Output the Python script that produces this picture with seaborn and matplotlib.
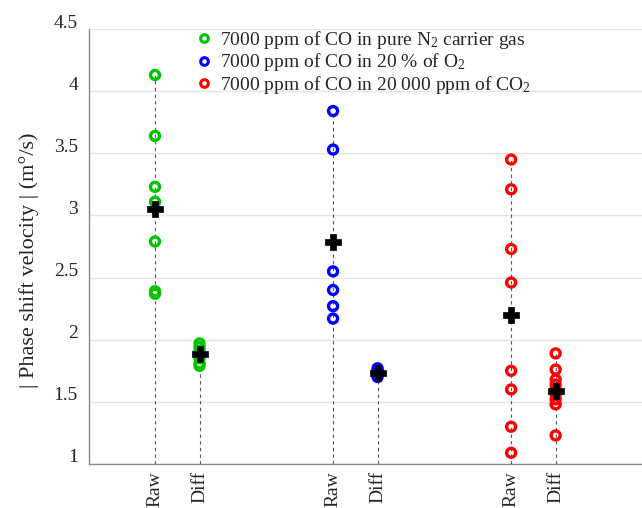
import numpy as np
import pandas as pd
import matplotlib
matplotlib.use("Agg")
import matplotlib.pyplot as plt
import matplotlib.transforms as mtransforms
from matplotlib.lines import Line2D
import seaborn as sns

# Measured |phase shift velocity| (m°/s) per gas mixture, raw and differential
green_raw = [4.13, 3.64, 3.23, 3.11, 2.79, 2.39, 2.37]
green_diff = [1.97, 1.94, 1.91, 1.88, 1.85, 1.81, 1.79]
blue_raw = [3.84, 3.53, 2.55, 2.40, 2.27, 2.17]
blue_diff = [1.77, 1.75, 1.74, 1.72, 1.70]
red_raw = [3.45, 3.21, 2.73, 2.46, 1.75, 1.60, 1.30, 1.09]
red_diff = [1.89, 1.76, 1.68, 1.64, 1.60, 1.56, 1.52, 1.48, 1.23]

# Central values (black crosses), order: raw, diff for each mixture
green_center = [3.05, 1.887]
blue_center = [2.79, 1.736]
red_center = [2.20, 1.59]

labels = [
    "7000 ppm of CO in pure N$_2$ carrier gas",
    "7000 ppm of CO in 20 % of O$_2$",
    "7000 ppm of CO in 20 000 ppm of CO$_2$",
]
stage_labels = ["Raw", "Diff"]
positions = [(1, 2), (5, 6), (9, 10)]
colors = ["#00c400", "#0000ff", "#ff0000"]

series = [
    (green_raw, green_diff, green_center),
    (blue_raw, blue_diff, blue_center),
    (red_raw, red_diff, red_center),
]

rows = []
centers = []
for lab, (raw, diff, cen), (p_raw, p_diff) in zip(labels, series, positions):
    for v in raw:
        rows.append({"gas": lab, "stage": "Raw", "pos": p_raw, "value": v})
    for v in diff:
        rows.append({"gas": lab, "stage": "Diff", "pos": p_diff, "value": v})
    centers.append({"pos": p_raw, "value": cen[0]})
    centers.append({"pos": p_diff, "value": cen[1]})
df = pd.DataFrame(rows)
cdf = pd.DataFrame(centers)

sns.set_style("white")
plt.rcParams["font.family"] = ["Liberation Serif", "DejaVu Serif"]
plt.rcParams["mathtext.fontset"] = "custom"
plt.rcParams["mathtext.rm"] = "Liberation Serif"
plt.rcParams["mathtext.it"] = "Liberation Serif:italic"

FS = 14

W, H = 642, 508
fig = plt.figure(figsize=(W / 100, H / 100), dpi=100)
left, right, top, bottom = 89, 642, 29, 464
ax = fig.add_axes([left / W, 1 - bottom / H, (right - left) / W, (bottom - top) / H])

ax.set_ylim(1, 4.5)
ax.set_xlim(-0.483, 11.94)
ax.set_yticks(np.arange(1, 4.51, 0.5))
ax.set_yticklabels(["1", "1.5", "2", "2.5", "3", "3.5", "4", "4.5"])
ax.yaxis.grid(True, color="#e4e4e4", linewidth=1.0)
ax.xaxis.grid(False)
ax.set_axisbelow(True)

# dashed guides from the axis floor up to the highest point of each column
tops = df.groupby("pos")["value"].max()
ax.vlines(tops.index, 1, tops.values, colors="#555555", linestyles=(0, (3, 3)),
          linewidth=0.8, zorder=1)

for lab, col in zip(labels, colors):
    sub = df[df["gas"] == lab]
    sns.scatterplot(data=sub, x="pos", y="value", ax=ax, marker="o", s=42,
                    facecolor="none", edgecolor=col, linewidth=2.4, zorder=3,
                    legend=False)

sns.scatterplot(data=cdf, x="pos", y="value", ax=ax, marker="P", s=125,
                color="black", edgecolor="black", linewidth=0.5, zorder=4,
                legend=False)

ax.set_xticks([p for pair in positions for p in pair])
ax.set_xticklabels(stage_labels * 3, rotation=90, fontsize=FS)
ax.set_xlabel("")
ax.set_ylabel("| Phase shift velocity | (m°/s)", fontsize=16)
ax.yaxis.set_label_coords(-0.09, 0.468)
ax.tick_params(axis="both", length=0, labelsize=FS)
ax.tick_params(axis="y", pad=8)
ax.tick_params(axis="x", pad=5)

offset = mtransforms.ScaledTranslation(0, 8 / 100, fig.dpi_scale_trans)
for t in ax.get_yticklabels():
    t.set_transform(t.get_transform() + offset)

for side in ["top", "right"]:
    ax.spines[side].set_visible(False)
for side in ["left", "bottom"]:
    ax.spines[side].set_color("#8a8a8a")
    ax.spines[side].set_linewidth(1.0)

handles = [Line2D([], [], linestyle="none", marker="o", markersize=5.5,
                  markerfacecolor="none", markeredgecolor=c, markeredgewidth=2.2)
           for c in colors]
fig.legend(handles, labels, loc="upper left", bbox_to_anchor=(196 / W, 1 - 29 / H),
           frameon=False, fontsize=FS, handlelength=0.8, handletextpad=0.45,
           labelspacing=0.02, borderaxespad=0, borderpad=0)

fig.savefig("out.png", dpi=100)
